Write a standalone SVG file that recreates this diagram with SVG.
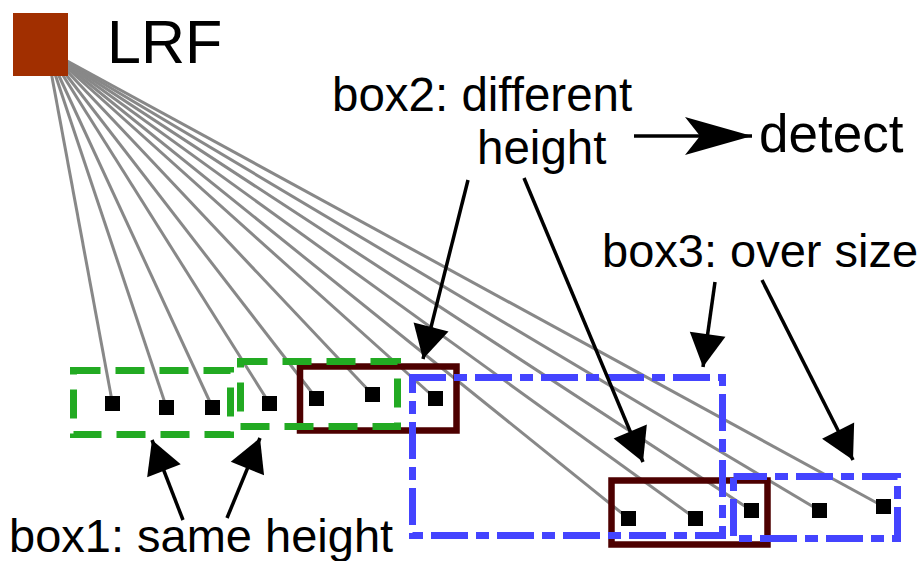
<svg xmlns="http://www.w3.org/2000/svg" width="924" height="561" viewBox="0 0 924 561">
<style>
.t{font-family:"Liberation Sans",Arial,sans-serif;fill:#000}
.ray{stroke:#888888;stroke-width:3;fill:none}
.g{stroke:#22aa22;stroke-width:7;fill:none;stroke-dasharray:29 15;stroke-dashoffset:2}
.b{stroke:#4444ff;stroke-width:7;fill:none;stroke-dasharray:37 8 13 8;stroke-dashoffset:3.5}
.m{stroke:#4d0000;stroke-width:6.5;fill:none}
.pt{fill:#000}
.arr{stroke:#000;stroke-width:3.5;fill:none;marker-end:url(#ah)}
</style>
<defs>
<marker id="ah" viewBox="-34 -19 35 38" refX="0" refY="0" markerWidth="35" markerHeight="38" markerUnits="userSpaceOnUse" orient="auto"><path d="M0,0 L-33,-18 L-33,18 Z" fill="#000"/></marker>
<marker id="ah2" viewBox="-68 -20 69 40" refX="0" refY="0" markerWidth="69" markerHeight="40" markerUnits="userSpaceOnUse" orient="auto"><path d="M0,0 L-67,-19 L-52,0 L-67,19 Z" fill="#000"/></marker>
</defs>
<g id="connectors">
<line class="ray" x1="47" y1="50" x2="112.5" y2="403.5"/>
<line class="ray" x1="47" y1="50" x2="166.5" y2="407.5"/>
<line class="ray" x1="47" y1="50" x2="212.5" y2="407.5"/>
<line class="ray" x1="47" y1="50" x2="269.5" y2="403.5"/>
<line class="ray" x1="47" y1="50" x2="316.5" y2="398.5"/>
<line class="ray" x1="47" y1="50" x2="372.5" y2="394.5"/>
<line class="ray" x1="47" y1="50" x2="435.5" y2="398.5"/>
<line class="ray" x1="47" y1="50" x2="628.5" y2="518.5"/>
<line class="ray" x1="47" y1="50" x2="695.5" y2="518.5"/>
<line class="ray" x1="47" y1="50" x2="751.5" y2="510.5"/>
<line class="ray" x1="47" y1="50" x2="819.5" y2="510.5"/>
<line class="ray" x1="47" y1="50" x2="883.5" y2="506.5"/>
</g>
<g id="lrf"><rect x="13" y="13" width="55" height="63" fill="#a12f00"/><text class="t" x="107" y="63" font-size="61">LRF</text></g>
<g id="maroon1"><rect class="m" x="300" y="366.5" width="156.5" height="64"/></g>
<g id="maroon2"><rect class="m" x="611.5" y="480.5" width="156" height="64"/></g>
<g id="green1"><rect class="g" x="73.5" y="370.5" width="157" height="64"/></g>
<g id="green2"><rect class="g" x="240.5" y="361.5" width="157" height="65"/></g>
<g id="blue1"><rect class="b" x="412.5" y="377.5" width="310" height="158"/></g>
<g id="blue2"><rect class="b" x="733.5" y="476.5" width="164" height="62"/></g>
<g id="points">
<rect class="pt" x="105" y="396" width="15" height="15"/>
<rect class="pt" x="159" y="400" width="15" height="15"/>
<rect class="pt" x="205" y="400" width="15" height="15"/>
<rect class="pt" x="262" y="396" width="15" height="15"/>
<rect class="pt" x="309" y="391" width="15" height="15"/>
<rect class="pt" x="365" y="387" width="15" height="15"/>
<rect class="pt" x="428" y="391" width="15" height="15"/>
<rect class="pt" x="621" y="511" width="15" height="15"/>
<rect class="pt" x="688" y="511" width="15" height="15"/>
<rect class="pt" x="744" y="503" width="15" height="15"/>
<rect class="pt" x="812" y="503" width="15" height="15"/>
<rect class="pt" x="876" y="499" width="15" height="15"/>
</g>
<g id="arrows">
<line class="arr" x1="468" y1="180" x2="423" y2="359"/>
<line class="arr" x1="524" y1="178" x2="643" y2="462"/>
<line class="arr" x1="715" y1="282" x2="703" y2="367"/>
<line class="arr" x1="762" y1="280" x2="853" y2="460"/>
<line class="arr" x1="183" y1="520" x2="152" y2="440"/>
<line class="arr" x1="227" y1="518" x2="260" y2="438"/>
<line x1="634" y1="136" x2="752" y2="136" stroke="#000" stroke-width="3.5" marker-end="url(#ah2)"/>
</g>
<g id="label-box2"><text class="t" x="332" y="111" font-size="47.5">box2: different</text><text class="t" x="477" y="164" font-size="47.5">height</text></g>
<g id="label-detect"><text class="t" x="759" y="152" font-size="53">detect</text></g>
<g id="label-box3"><text class="t" x="602" y="267" font-size="47">box3: over size</text></g>
<g id="label-box1"><text class="t" x="9" y="552" font-size="47">box1: same height</text></g>
</svg>
